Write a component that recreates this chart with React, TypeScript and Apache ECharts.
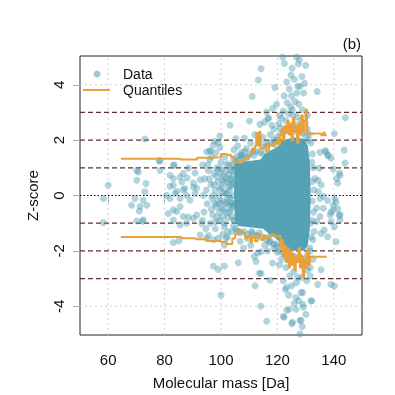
import { useEffect, useRef } from "react";
import * as echarts from "echarts";

const X_TICKS = [60, 80, 100, 120, 140];
const Y_TICKS = [-4, -2, 0, 2, 4];
const DASHED_LEVELS = [-3, -2, -1, 1, 2, 3];
const GRID_Y = [-4, 4];
const X_MIN = 50;
const X_MAX = 150;
const Y_MIN = -5.04;
const Y_MAX = 5.04;

// dense core of the point cloud (outline, mass / z-score)
const CORE_OUTLINE: number[][] = [
  [104.8, 1.0], [105.3, 1.2], [110, 1.25], [114, 1.3], [115.5, 1.5], [117, 1.6], [119, 1.7],
  [120.5, 1.8], [121.5, 2.0], [126, 2.1], [129.5, 2.05], [130.8, 1.8], [131.5, 1.2], [131.8, 0],
  [131.5, -1.2], [130.8, -1.8], [129.5, -2.0], [125, -2.0], [122, -1.85], [120, -1.6],
  [118, -1.45], [116.5, -1.35], [115, -1.2], [110, -1.15], [106, -1.1], [105, -0.9], [104.6, 0],
];

const EDGE_POINTS: number[][] = [
  [105.5, 1.4], [106.3, 1.3], [107.6, 1.45], [108.9, 1.35], [110.3, 1.5], [111.7, 1.45], [112.8, 1.6],
  [113.9, 1.55], [115.2, 1.75], [116.4, 1.8], [117.6, 1.9], [118.7, 2.0], [119.9, 2.1], [121.2, 2.25],
  [122.3, 2.3], [123.4, 2.35], [124.6, 2.3], [125.7, 2.4], [126.8, 2.3], [127.9, 2.35], [129.0, 2.25],
  [130.1, 2.15], [131.0, 2.0], [105.6, -1.3], [106.9, -1.35], [108.2, -1.3], [109.6, -1.4],
  [110.9, -1.3], [112.3, -1.45], [113.6, -1.35], [114.9, -1.5], [116.1, -1.6], [117.4, -1.65],
  [118.6, -1.75], [119.8, -1.85], [121.0, -2.0], [122.2, -2.1], [123.4, -2.2], [124.6, -2.25],
  [125.8, -2.2], [127.0, -2.3], [128.2, -2.25], [129.4, -2.3], [130.6, -2.15], [131.5, -1.9],
  [132.2, 1.2], [132.3, 0.5], [132.4, -0.2], [132.2, -0.9], [132.0, -1.5], [104.3, 0.7],
  [104.2, -0.4], [104.4, -1.1], [104.1, 1.1],
];

const LEFT_POINTS: number[][] = [
  [58.3, -0.11], [60.0, 0.37], [58.3, -0.98], [73.0, 2.04], [78.1, 1.25], [70.1, 0.9], [70.7, 0.85],
  [70.1, 0.55], [73.4, 0.43], [73.0, 0.13], [69.5, -0.11], [68.3, -0.35], [71.3, -0.4], [71.0, -0.56],
  [72.4, -0.17], [73.7, -0.35], [72.4, -0.88], [70.1, -0.92], [72.2, -0.93], [78.4, 1.26], [78.4, 0.9],
  [83.1, 1.08], [83.4, 1.11], [81.9, 0.73], [83.1, 0.61], [85.5, 0.67], [86.6, 0.79], [86.1, 0.49],
  [83.1, 0.37], [80.7, 0.01], [81.9, -0.11], [83.7, 0.07], [85.5, -0.11], [87.8, 0.01], [89.0, -0.17],
  [87.2, 0.25], [90.2, 0.31], [90.8, 0.07], [83.1, -0.52], [84.3, -0.58], [85.5, -0.4], [86.6, -0.76],
  [87.8, -1.0], [90.2, -0.82], [85.5, -1.06], [81.3, -0.65], [83.1, -0.89], [88.4, -0.78], [91.4, -0.71],
  [93.2, -1.01], [83.1, -1.7], [85.1, -1.64], [88.4, 0.99], [90.8, 0.81], [88.0, 0.63], [90.2, 0.45],
  [91.4, 0.27], [92.6, 0.57], [81.9, 0.33], [84.3, 0.15], [86.6, 0.21], [92.6, -1.43], [94.9, -1.55],
];

const MID_POINTS: number[][] = [
  [93.5, 1.1], [94.2, 0.6], [94.8, 0.2], [95.1, -0.3], [94.0, -0.6], [93.8, 0.0], [95.5, 0.9],
  [96.0, 1.3], [96.4, 0.4], [96.8, -0.1], [97.0, -0.7], [96.2, -1.0], [97.5, 0.8], [97.9, 0.2],
  [98.3, -0.4], [98.0, -1.2], [98.6, 1.0], [99.0, 0.5], [99.2, 0.0], [99.4, -0.6], [99.7, -0.9],
  [100.0, 1.2], [100.2, 0.3], [100.5, -0.2], [100.8, 0.7], [101.0, -0.5], [101.2, -1.0], [101.5, 0.1],
  [101.8, 0.9], [102.0, -0.3], [102.2, 0.5], [102.5, -0.8], [102.8, 1.1], [103.0, 0.2], [103.2, -0.1],
  [103.5, 0.6], [103.7, -0.5], [104.0, 0.0], [104.2, 0.9], [104.5, -0.9], [103.8, -1.3], [102.3, -1.5],
  [100.6, -1.4], [99.0, -1.55], [97.4, -1.6], [95.6, -1.45], [94.6, -1.2], [93.4, -0.9], [98.2, 1.55],
  [101.4, 1.4], [104.4, 1.3], [96.3, 1.6], [96.1, 1.62], [99.6, 1.74], [99.6, 2.15], [99.0, 1.92],
  [97.9, 1.96], [97.3, 1.82], [94.9, 1.58], [96.7, 1.4], [95.3, 1.11], [97.3, -2.55], [99.0, -2.67],
  [101.2, -2.55], [100.0, -3.6], [101.2, -1.79], [101.8, -1.55], [102.4, -1.31], [101.2, -1.13],
  [103.4, 0.9], [102.9, -0.6], [100.9, 0.1], [99.8, 0.8], [98.8, -0.2], [97.6, 0.4],
  [103.6, 0.35], [103.1, -0.35], [102.6, 0.75], [101.6, -0.25], [100.4, 0.55], [99.5, -0.3],
  [98.4, 0.7], [97.2, 0.0], [95.9, 0.6], [96.6, -0.5], [102.1, 0.05], [103.9, -0.75],
  [103.3, 0.55], [102.7, 0.3], [102.4, -0.1], [101.9, -0.6], [101.3, 0.45], [100.7, -0.75],
  [100.1, -0.45], [99.6, 0.25], [98.9, 0.95], [98.6, -0.8], [97.8, -0.3], [101.7, 0.65],
  [103.5, -0.25], [104.1, 0.45], [104.3, -0.3], [102.0, 1.15], [100.3, 0.95], [98.1, -0.95],
];

const UPPER_POINTS: number[][] = [
  [103.2, 2.54], [105.3, 2.06], [108.3, 2.08], [110.1, 2.69], [115.4, 2.65], [116.6, 2.77],
  [116.2, 3.02], [116.9, 2.8], [113.8, 2.57], [118.0, 2.54], [111.1, 3.58], [113.2, 4.17],
  [114.2, 4.58], [119.1, 3.9], [105.9, 1.8], [104.6, 1.65], [107.2, 1.55], [109.0, 1.7], [110.5, 1.9],
  [112.0, 2.2], [113.5, 1.9], [114.8, 2.1], [116.0, 1.9], [117.5, 2.2], [118.8, 2.4], [119.8, 2.0],
  [120.5, 2.6], [106.8, 1.45], [108.4, 1.6], [111.5, 1.6], [120.8, 2.9], [119.7, 3.3], [118.3, 3.15],
  [122.5, 4.77], [121.9, 5.0], [126.8, 5.0], [127.8, 4.9], [127.4, 4.75], [130.0, 4.7], [125.2, 4.6],
  [123.3, 4.1], [128.0, 3.94], [128.7, 4.3], [126.0, 4.2], [124.2, 3.85], [122.4, 3.6], [125.0, 3.6],
  [126.9, 3.7], [129.3, 3.7], [123.5, 3.35], [124.7, 3.2], [126.2, 3.4], [127.6, 3.3], [128.9, 3.1],
  [130.7, 2.89], [122.1, 3.05], [121.5, 2.8], [123.0, 2.7], [124.0, 2.95], [125.6, 2.9], [127.0, 2.85],
  [128.3, 2.7], [129.8, 2.6], [130.6, 2.4], [131.3, 2.2], [122.6, 2.4], [124.6, 2.5], [126.6, 2.55],
  [128.5, 2.4], [125.3, 3.1], [127.2, 3.95], [124.8, 4.35], [129.6, 4.05], [121.0, 2.45],
];

const RIGHT_POINTS: number[][] = [
  [134.1, 3.76], [144.1, 2.81], [140.2, 2.24], [137.2, 1.58], [143.7, 1.64], [137.8, 1.46],
  [139.0, 1.35], [144.0, 1.17], [142.0, 0.81], [141.4, 0.45], [135.5, 0.39], [134.9, 0.99],
  [135.1, 1.56], [136.9, 1.62], [138.0, 1.44], [139.8, 0.96], [142.2, 0.73], [141.0, 0.61],
  [139.8, -0.35], [139.8, -0.52], [138.7, -0.7], [142.2, -0.7], [140.4, -0.11], [142.2, -0.88],
  [134.4, 0.55], [136.3, -0.03], [133.9, -0.45], [135.5, -1.37], [136.6, -1.25], [137.8, -1.49],
  [140.2, -1.13], [139.0, -0.95], [140.8, -1.67], [141.4, -0.48], [140.8, -0.24], [137.8, -0.18],
  [139.0, -0.6], [141.9, -0.71], [139.0, -3.21], [140.2, -3.27], [134.5, 0.13], [135.1, -0.11],
  [136.3, -0.46], [135.1, -0.76], [133.9, -0.94], [133.3, 0.61],
];

const LOWER_POINTS: number[][] = [
  [106.1, -2.43], [112.1, -3.26], [114.1, -4.0], [113.6, -2.81], [117.4, -3.06], [116.2, -4.54],
  [122.1, -4.37], [123.3, -4.15], [125.1, -4.63], [128.0, -4.51], [128.8, -4.73], [128.0, -5.0],
  [132.2, -3.8], [129.2, -4.04], [114.2, -2.82], [118.3, -2.44], [120.7, -2.5], [112.4, -2.38],
  [111.8, -2.2], [113.0, -2.08], [114.2, -2.03], [122.1, -3.08], [123.3, -3.32], [125.1, -3.26],
  [126.8, -3.14], [128.6, -2.96], [130.4, -3.08], [131.6, -2.9], [131.6, -2.61], [135.5, -2.68],
  [134.3, -3.21], [131.9, -3.81], [130.1, -4.29], [128.4, -4.52], [125.4, -4.58], [122.4, -4.4],
  [129.0, -3.93], [126.6, -3.69], [129.0, -3.51], [124.2, -4.11], [126.6, -4.11], [123.0, -2.6],
  [124.4, -2.9], [125.8, -2.75], [127.2, -2.95], [128.4, -3.5], [124.0, -3.6], [126.0, -3.9],
  [127.6, -3.8], [122.8, -3.4], [130.6, -2.7], [129.6, -2.5], [121.5, -2.3], [120.0, -2.05],
  [118.8, -1.9], [116.5, -2.0], [115.5, -1.8], [110.5, -1.8], [108.0, -1.9], [106.8, -1.65],
  [109.4, -1.55], [117.2, -1.7], [119.5, -1.75], [125.0, -2.3], [127.8, -2.2], [131.5, -2.0],
  [132.6, -1.6], [133.0, -1.3], [132.6, -2.3], [131.8, -1.0], [132.8, -0.6], [132.9, 0.2],
  [132.7, 1.0], [132.4, 1.5], [131.9, 1.9], [104.8, 1.0], [104.6, 0.4], [104.9, -0.3],
  [104.7, -0.9], [105.2, -1.2], [105.6, 1.2], [106.5, -1.3], [107.5, 1.35], [109.5, 1.4],
  [111.0, -1.35], [113.0, -1.45], [115.0, 1.5], [117.0, -1.5], [119.0, 1.85], [121.5, -1.8],
];

const Q_UPPER: number[][] = [
  [64.5, 1.33], [85.5, 1.3], [91.5, 1.36], [95, 1.38], [100, 1.5], [102, 1.47], [103.5, 1.4],
  [104.5, 1.22], [106, 1.18], [107.5, 1.25], [108.5, 1.35], [109.5, 1.45], [110.5, 1.55],
  [111, 1.7], [111.5, 1.6], [112, 1.8], [112.5, 2.25], [113, 1.8], [113.5, 2.3], [114, 1.7],
  [115, 1.75], [116, 1.6], [117, 1.85], [118, 1.8], [119, 1.9], [120, 2.1], [120.5, 1.85],
  [121, 2.2], [121.5, 2.4], [122, 2.0], [122.5, 2.5], [123, 2.3], [123.5, 2.7], [124, 2.2],
  [124.5, 2.6], [125, 2.0], [125.5, 2.8], [126, 2.3], [126.5, 2.5], [127, 1.9], [127.5, 2.6],
  [128, 2.2], [128.5, 2.9], [129, 2.3], [129.5, 2.7], [130, 3.1], [130.5, 2.3], [131, 2.24],
  [135.5, 2.18], [136.3, 2.28], [136.8, 2.18], [137.5, 2.18],
];

const Q_LOWER: number[][] = [
  [64.5, -1.5], [86, -1.54], [91, -1.58], [95, -1.64], [100, -1.68], [102, -1.75], [104, -1.55],
  [105, -1.4], [106, -1.29], [107.5, -1.35], [108.5, -1.55], [109.5, -1.45], [110.5, -1.7],
  [111, -1.5], [112, -1.65], [113, -1.4], [114, -1.6], [115, -1.45], [116, -1.55], [117, -1.45],
  [118, -1.4], [119, -1.5], [120, -1.45], [121, -1.9], [121.5, -1.6], [122, -2.2], [122.5, -1.8],
  [123, -2.4], [123.5, -1.9], [124, -2.6], [124.5, -2.0], [125, -2.5], [125.5, -2.1], [126, -2.7],
  [126.5, -2.2], [127, -2.4], [127.5, -1.9], [128, -2.6], [128.5, -2.2], [129, -2.95],
  [129.5, -2.3], [130, -2.6], [130.5, -2.0], [131, -2.5], [131.5, -2.21], [137.5, -2.21],
];

const FONT = '"Liberation Sans", Arial, Helvetica, sans-serif';
const POINT_COLOR = "rgba(80,158,178,0.55)";
const CORE_COLOR = "rgb(86,162,181)";
const Q_COLOR = "#e8a03a";

export default function App() {
  const ref = useRef<HTMLDivElement>(null);
  useEffect(() => {
    if (!ref.current) return;
    const chart = echarts.init(ref.current, null, { renderer: "svg" });
    const allPoints = [
      ...LEFT_POINTS,
      ...MID_POINTS,
      ...UPPER_POINTS,
      ...RIGHT_POINTS,
      ...LOWER_POINTS,
      ...EDGE_POINTS,
    ];
    const refLine = (data: number[][], color: string, type: any, width: number, z: number) => ({
      type: "line",
      data,
      symbol: "none",
      silent: true,
      z,
      lineStyle: { color, type, width },
    });
    const series: any[] = [];
    X_TICKS.forEach((x) =>
      series.push(refLine([[x, Y_MIN], [x, Y_MAX]], "#d0d0d0", [2, 3], 1, 1))
    );
    GRID_Y.forEach((y) =>
      series.push(refLine([[X_MIN, y], [X_MAX, y]], "#d0d0d0", [2, 3], 1, 1))
    );
    DASHED_LEVELS.forEach((y) =>
      series.push(refLine([[X_MIN, y], [X_MAX, y]], "#632c2c", [5, 3], 1.2, 2))
    );
    series.push(refLine([[X_MIN, 0], [X_MAX, 0]], "#000", [1.5, 2], 1, 2));
    series.push({
      type: "custom",
      z: 3,
      silent: true,
      data: [CORE_OUTLINE[0]],
      renderItem: (params: any, api: any) => {
        if (params.dataIndex !== 0) return null;
        const pts = CORE_OUTLINE.map((p) => api.coord(p));
        return { type: "polygon", shape: { points: pts }, style: { fill: CORE_COLOR } };
      },
    });
    series.push({
      type: "scatter",
      name: "Data",
      data: allPoints,
      symbolSize: 7,
      z: 4,
      itemStyle: { color: POINT_COLOR },
    });
    series.push({
      type: "line",
      name: "Quantiles",
      data: Q_UPPER,
      step: "end",
      symbol: "none",
      z: 5,
      lineStyle: { color: Q_COLOR, width: 2 },
    });
    series.push({
      type: "line",
      name: "Quantiles",
      data: Q_LOWER,
      step: "end",
      symbol: "none",
      z: 5,
      lineStyle: { color: Q_COLOR, width: 2 },
    });

    chart.setOption({
      animation: false,
      grid: {
        left: 80,
        right: 33,
        top: 56,
        bottom: 57,
        show: true,
        borderColor: "#222",
        borderWidth: 1,
        backgroundColor: "transparent",
      },
      xAxis: {
        type: "value",
        min: X_MIN,
        max: X_MAX,
        splitLine: { show: false },
        axisLine: { show: false },
        axisTick: { show: true, customValues: X_TICKS, length: 7, lineStyle: { color: "#aaa" } },
        axisLabel: { customValues: X_TICKS, fontSize: 15, color: "#111", margin: 17, fontFamily: FONT },
        name: "Molecular mass [Da]",
        nameLocation: "middle",
        nameGap: 40,
        nameTextStyle: { fontSize: 15, color: "#111", fontFamily: FONT },
      },
      yAxis: {
        type: "value",
        min: Y_MIN,
        max: Y_MAX,
        splitLine: { show: false },
        axisLine: { show: false },
        axisTick: { show: true, customValues: Y_TICKS, length: 7, lineStyle: { color: "#aaa" } },
        axisLabel: { customValues: Y_TICKS, rotate: 90, fontSize: 15, color: "#111", margin: 14, fontFamily: FONT },
        name: "Z-score",
        nameLocation: "middle",
        nameGap: 40,
        nameTextStyle: { fontSize: 15, color: "#111", fontFamily: FONT },
      },
      series,
      graphic: [
        { type: "circle", z: 100, shape: { cx: 97, cy: 74, r: 3.5 }, style: { fill: POINT_COLOR } },
        { type: "line", z: 100, shape: { x1: 83, y1: 90, x2: 110, y2: 90 }, style: { stroke: Q_COLOR, lineWidth: 2 } },
        { type: "text", z: 100, x: 123, y: 74, style: { text: "Data", font: `14px ${FONT}`, fill: "#111", verticalAlign: "middle" } },
        { type: "text", z: 100, x: 123, y: 90, style: { text: "Quantiles", font: `14px ${FONT}`, fill: "#111", verticalAlign: "middle" } },
        { type: "text", z: 100, x: 361, y: 43, style: { text: "(b)", font: `15px ${FONT}`, fill: "#111", align: "right", verticalAlign: "middle" } },
      ],
    });
    return () => chart.dispose();
  }, []);
  return (
    <div
      ref={ref}
      style={{ position: "fixed", left: 0, top: 0, width: 395, height: 395 }}
    />
  );
}
